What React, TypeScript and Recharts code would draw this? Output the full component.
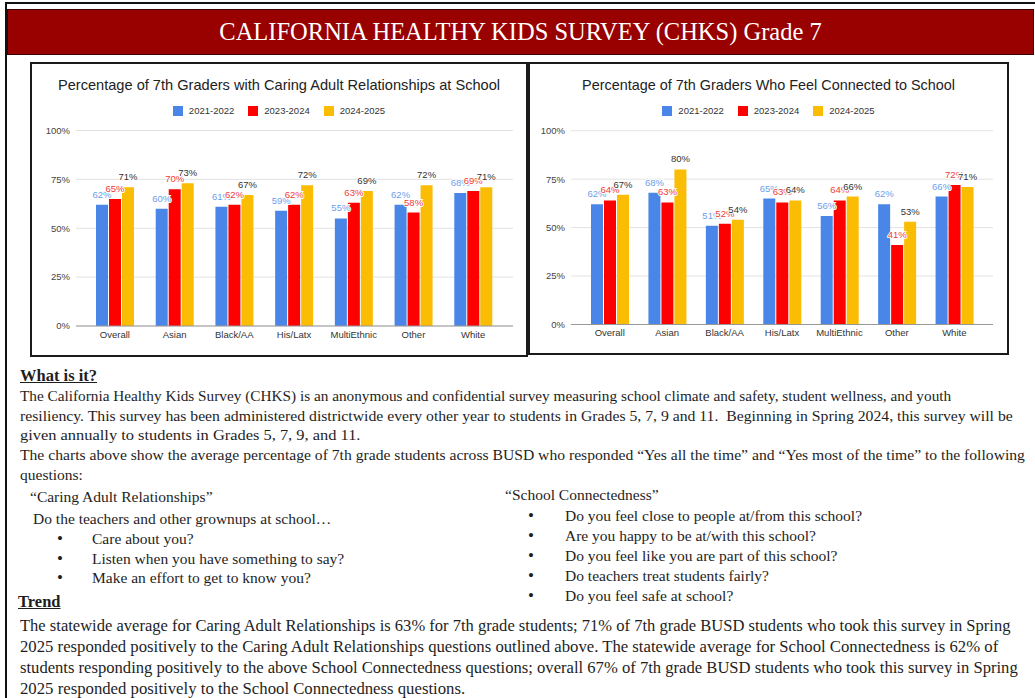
import React, { useLayoutEffect, useRef, useState } from 'react';
import { BarChart, Bar, XAxis, YAxis, CartesianGrid, LabelList } from 'recharts';

const categories = ['Overall', 'Asian', 'Black/AA', 'His/Latx', 'MultiEthnic', 'Other', 'White'];
const seriesNames = ['2021-2022', '2023-2024', '2024-2025'];

// Caring Adult Relationships at School (%)
const caring2122 = [62, 60, 61, 59, 55, 62, 68];
const caring2324 = [65, 70, 62, 62, 63, 58, 69];
const caring2425 = [71, 73, 67, 72, 69, 72, 71];

// Feel Connected to School (%)
const connected2122 = [62, 68, 51, 65, 56, 62, 66];
const connected2324 = [64, 63, 52, 63, 64, 41, 72];
const connected2425 = [67, 80, 54, 64, 66, 53, 71];

const yTicks = [0, 25, 50, 75, 100];

const barColors = ['#4a86e8', '#ff0000', '#fbbc04'];
const labelColors = ['#6d9eeb', '#f03a3a', '#333333'];
const chartFont = '"Liberation Sans", Arial, sans-serif';
const bodyFont = '"Liberation Serif", "Times New Roman", serif';

const buildRows = (a: number[], b: number[], c: number[]) =>
  categories.map((name, i) => ({ name, s0: a[i], s1: b[i], s2: c[i] }));

type PanelProps = {
  left: number;
  top: number;
  width: number;
  height: number;
  title: string;
  titleSize: number;
  rows: any[];
  yAxisWidth: number;
  marginRight: number;
  plotTop: number;
  xAxisHeight: number;
  padLeft: number;
  padRight: number;
};

function ChartPanel(p: PanelProps) {
  const innerW = p.width - 4;
  const innerH = p.height - 4;
  return (
    <div
      style={{
        position: 'absolute',
        left: p.left,
        top: p.top,
        width: p.width,
        height: p.height,
        boxSizing: 'border-box',
        border: '2px solid #1a1a1a',
        background: '#fff',
      }}
    >
      <div
        style={{
          position: 'absolute',
          left: 0,
          top: 12,
          width: innerW,
          textAlign: 'center',
          fontFamily: chartFont,
          fontSize: p.titleSize,
          lineHeight: '18px',
          color: '#222',
        }}
      >
        {p.title}
      </div>
      <div
        style={{
          position: 'absolute',
          left: 0,
          top: 40,
          width: innerW,
          display: 'flex',
          justifyContent: 'center',
          alignItems: 'center',
          fontFamily: chartFont,
          fontSize: 9.5,
          lineHeight: '14px',
          color: '#333',
        }}
      >
        {seriesNames.map((s, i) => (
          <div key={s} style={{ display: 'flex', alignItems: 'center', marginLeft: i ? 14 : 0 }}>
            <span style={{ width: 10, height: 10, background: barColors[i], marginRight: 6 }} />
            <span>{s}</span>
          </div>
        ))}
      </div>
      <div style={{ position: 'absolute', left: 0, top: 0 }}>
        <BarChart
          width={innerW}
          height={innerH}
          data={p.rows}
          margin={{ top: p.plotTop, right: p.marginRight, left: 0, bottom: 0 }}
          barSize={12}
          barGap={1}
        >
          <CartesianGrid vertical={false} stroke="#e2e2e2" />
          <XAxis
            dataKey="name"
            height={p.xAxisHeight}
            tickLine={false}
            tickSize={0}
            tickMargin={5}
            axisLine={{ stroke: '#999' }}
            padding={{ left: p.padLeft, right: p.padRight }}
            interval={0}
            tick={{ fill: '#333', fontSize: 9.5, fontFamily: chartFont }}
          />
          <YAxis
            width={p.yAxisWidth}
            domain={[0, 100]}
            ticks={yTicks}
            tickFormatter={(v: number) => `${v}%`}
            axisLine={false}
            tickLine={false}
            tickSize={0}
            tickMargin={6}
            tick={{ fill: '#444', fontSize: 9.5, fontFamily: chartFont }}
          />
          {['s0', 's1', 's2'].map((k, i) => (
            <Bar key={k} dataKey={k} name={seriesNames[i]} fill={barColors[i]} isAnimationActive={false}>
              <LabelList
                dataKey={k}
                position="top"
                offset={7}
                formatter={(v: any) => `${v}%`}
                fill={labelColors[i]}
                stroke="#fff"
                strokeWidth={2}
                paintOrder="stroke"
                style={{ fontSize: 9.5, fontFamily: chartFont }}
              />
            </Bar>
          ))}
        </BarChart>
      </div>
    </div>
  );
}

// one text line; when `to` is given the line is stretched so it ends at that x
function Line({ x, y, to, children, style }: { x: number; y: number; to?: number; children: React.ReactNode; style?: React.CSSProperties }) {
  const ref = useRef<HTMLDivElement>(null);
  const [sx, setSx] = useState(1);
  useLayoutEffect(() => {
    if (to && ref.current) {
      const w = ref.current.scrollWidth;
      if (w > 0) setSx((to - x) / w);
    }
  }, [to, x]);
  return (
    <div
      ref={ref}
      style={{
        position: 'absolute',
        left: x,
        top: y - 10,
        height: 20,
        lineHeight: '20px',
        whiteSpace: 'nowrap',
        fontFamily: bodyFont,
        fontSize: 15.5,
        color: '#1e1e1e',
        transform: `scaleX(${sx})`,
        transformOrigin: 'left center',
        ...style,
      }}
    >
      {children}
    </div>
  );
}

function Bullet({ x, tx, y, children }: { x: number; tx: number; y: number; children: React.ReactNode }) {
  return (
    <>
      <Line x={x} y={y} style={{ fontSize: 17 }}>•</Line>
      <Line x={tx} y={y}>{children}</Line>
    </>
  );
}

const heading: React.CSSProperties = { fontWeight: 'bold', textDecoration: 'underline', fontSize: 16.5 };
const trendText: React.CSSProperties = { fontSize: 16.4 };

export default function App() {
  return (
    <div style={{ position: 'absolute', left: 0, top: 0, width: 1035, height: 698, background: '#fff', overflow: 'hidden' }}>
      {/* page frame */}
      <div style={{ position: 'absolute', left: 5, top: 2, width: 1030, height: 2, background: '#111' }} />
      <div style={{ position: 'absolute', left: 5, top: 2, width: 2, height: 696, background: '#111' }} />
      {/* header */}
      <div
        style={{
          position: 'absolute',
          left: 7,
          top: 9,
          width: 1027,
          height: 46,
          boxSizing: 'border-box',
          background: '#990000',
          border: '1px solid #3a0000',
          color: '#fff',
          textAlign: 'center',
          fontFamily: bodyFont,
          fontSize: 24.5,
          lineHeight: '44px',
        }}
      >
        CALIFORNIA HEALTHY KIDS SURVEY (CHKS) Grade 7
      </div>

      <ChartPanel
        left={30}
        top={62}
        width={498}
        height={295}
        title="Percentage of 7th Graders with Caring Adult Relationships at School"
        titleSize={14.6}
        rows={buildRows(caring2122, caring2324, caring2425)}
        yAxisWidth={44}
        marginRight={13}
        plotTop={66.5}
        xAxisHeight={29}
        padLeft={9}
        padRight={10}
      />
      <ChartPanel
        left={528}
        top={62}
        width={481}
        height={293}
        title="Percentage of 7th Graders Who Feel Connected to School"
        titleSize={14.4}
        rows={buildRows(connected2122, connected2324, connected2425)}
        yAxisWidth={41}
        marginRight={14}
        plotTop={66.7}
        xAxisHeight={28.5}
        padLeft={10}
        padRight={10}
      />

      <Line x={20} y={376} style={heading}>What is it?</Line>
      <Line x={20} y={396} to={951}>
        The California Healthy Kids Survey (CHKS) is an anonymous and confidential survey measuring school climate and safety, student wellness, and youth
      </Line>
      <Line x={20} y={416} to={1013}>
        resiliency. This survey has been administered districtwide every other year to students in Grades 5, 7, 9 and 11.&nbsp; Beginning in Spring 2024, this survey will be
      </Line>
      <Line x={20} y={435} to={360}>given annually to students in Grades 5, 7, 9, and 11.</Line>
      <Line x={20} y={455} to={1025}>
        The charts above show the average percentage of 7th grade students across BUSD who responded “Yes all the time” and “Yes most of the time” to the following
      </Line>
      <Line x={20} y={475}>questions:</Line>

      <Line x={30} y={497}>“Caring Adult Relationships”</Line>
      <Line x={33} y={519}>Do the teachers and other grownups at school…</Line>
      <Bullet x={57} tx={92} y={539}>Care about you?</Bullet>
      <Bullet x={57} tx={92} y={559}>Listen when you have something to say?</Bullet>
      <Bullet x={57} tx={92} y={578}>Make an effort to get to know you?</Bullet>

      <Line x={505} y={495}>“School Connectedness”</Line>
      <Bullet x={528} tx={565} y={516}>Do you feel close to people at/from this school?</Bullet>
      <Bullet x={528} tx={565} y={536}>Are you happy to be at/with this school?</Bullet>
      <Bullet x={528} tx={565} y={556}>Do you feel like you are part of this school?</Bullet>
      <Bullet x={528} tx={565} y={576}>Do teachers treat students fairly?</Bullet>
      <Bullet x={528} tx={565} y={596}>Do you feel safe at school?</Bullet>

      <Line x={18} y={602} style={heading}>Trend</Line>
      <Line x={20} y={626} to={1010} style={trendText}>
        The statewide average for Caring Adult Relationships is 63% for 7th grade students; 71% of 7th grade BUSD students who took this survey in Spring
      </Line>
      <Line x={20} y={647} to={998} style={trendText}>
        2025 responded positively to the Caring Adult Relationships questions outlined above. The statewide average for School Connectedness is 62% of
      </Line>
      <Line x={20} y={668} to={1018} style={trendText}>
        students responding positively to the above School Connectedness questions; overall 67% of 7th grade BUSD students who took this survey in Spring
      </Line>
      <Line x={20} y={689} to={465} style={trendText}>
        2025 responded positively to the School Connectedness questions.
      </Line>
    </div>
  );
}
